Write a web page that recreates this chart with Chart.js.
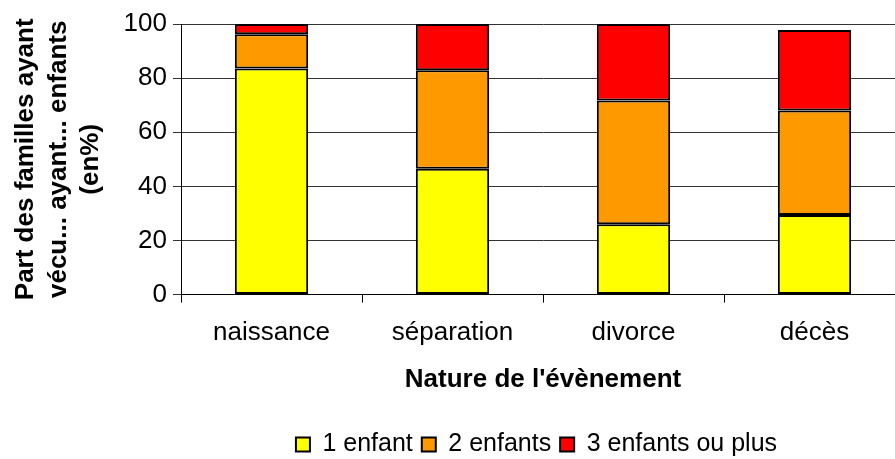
<!DOCTYPE html>
<html>
<head>
<meta charset="utf-8">
<script src="https://cdn.jsdelivr.net/npm/chart.js@4.4.1/dist/chart.umd.min.js"></script>
<style>
  html, body { margin:0; padding:0; background:#fff; overflow:hidden; }
  #wrap { width:895px; height:459px; overflow:hidden; }
</style>
</head>
<body>
<div id="wrap"><canvas id="c" width="910" height="459"></canvas></div>
<script>
// Data
const categories = ['naissance', 'séparation', 'divorce', 'décès'];
const unEnfant   = [83.6, 46.5, 26.0, 29.4];
const deuxEnfants = [12.6, 36.4, 45.7, 38.6];
const troisPlus  = [3.8, 17.1, 28.3, 29.8];
const yTicks = [0, 20, 40, 60, 80, 100];

const FONT = "'Liberation Sans', Arial, sans-serif";

function ds(label, data, color) {
  return {
    label, data,
    backgroundColor: color,
    borderColor: '#000',
    borderWidth: 2,
    borderSkipped: false,
    categoryPercentage: 1,
    barPercentage: 0.405
  };
}

// shift the legend so it sits where the original one does
const legendShift = {
  id: 'legendShift',
  afterLayout(chart) {
    const lg = chart.legend;
    lg.left += 84; lg.right += 84;
    lg.top += 8; lg.bottom += 8;
  }
};

new Chart(document.getElementById('c'), {
  type: 'bar',
  data: {
    labels: categories,
    datasets: [
      ds('1 enfant', unEnfant, '#ffff00'),
      ds('2 enfants', deuxEnfants, '#ff9900'),
      ds('3 enfants ou plus', troisPlus, '#ff0000')
    ]
  },
  options: {
    responsive: false,
    animation: false,
    layout: { padding: { top: 24, right: 5, left: 0, bottom: 0 } },
    plugins: {
      tooltip: { enabled: false },
      legend: {
        position: 'bottom',
        labels: {
          font: { family: FONT, size: 25, lineHeight: 1 },
          color: '#000',
          boxWidth: 14,
          boxHeight: 14,
          padding: 9
        }
      }
    },
    scales: {
      x: {
        stacked: true,
        grid: { drawOnChartArea: false, drawTicks: true, tickLength: 8, color: '#000' },
        border: { color: '#000', width: 1 },
        ticks: { color: '#000', font: { family: FONT, size: 26 }, padding: 15 },
        title: {
          display: true, text: "Nature de l'évènement", color: '#000',
          font: { family: FONT, size: 26, weight: 'bold' },
          padding: { top: 0, bottom: 20 }
        }
      },
      y: {
        stacked: true,
        min: 0, max: 100,
        afterBuildTicks(scale) { scale.ticks = yTicks.map(v => ({ value: v })); },
        afterFit(scale) { scale.width = 181; },
        grid: { color: '#333', lineWidth: 1, tickLength: 8 },
        border: { color: '#000', width: 1 },
        ticks: { color: '#000', font: { family: FONT, size: 26 }, padding: 6 },
        title: {
          display: true,
          text: ['Part des familles ayant', 'vécu... ayant... enfants', '(en%)'],
          color: '#000',
          font: { family: FONT, size: 26, weight: 'bold', lineHeight: 1.25 },
          padding: { top: 10, bottom: 0 }
        }
      }
    }
  },
  plugins: [legendShift]
});
</script>
</body>
</html>
